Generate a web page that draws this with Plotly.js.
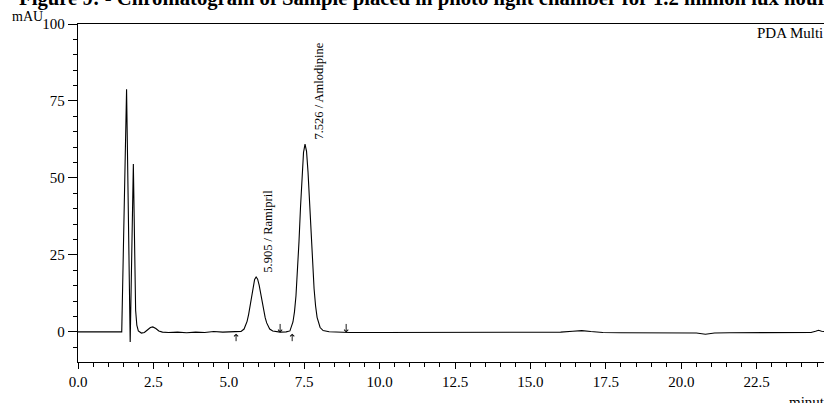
<!DOCTYPE html>
<html>
<head>
<meta charset="utf-8">
<script src="https://cdn.plot.ly/plotly-3.0.1.min.js"></script>
<style>
  html, body { margin: 0; padding: 0; background: #fff; }
  #chart { width: 824px; height: 403px; }
</style>
</head>
<body>
<div id="chart"></div>
<script>
// Retention time (minutes) and detector response (mAU) of the PDA trace
const timeMin = [
  0, 0.5, 1.0, 1.45,
  1.61, 1.73, 1.835, 1.91, 1.95, 2.0, 2.1, 2.2, 2.3, 2.4, 2.48, 2.58, 2.68, 2.8,
  3.0, 3.3, 3.6, 3.9, 4.2, 4.5, 4.8, 5.1,
  5.405, 5.505, 5.555, 5.605, 5.655, 5.705, 5.755, 5.805, 5.855, 5.905,
  5.955, 6.005, 6.055, 6.105, 6.155, 6.205, 6.255, 6.305, 6.355, 6.455, 6.555,
  6.7, 6.9, 7.026,
  7.126, 7.176, 7.226, 7.276, 7.326, 7.376, 7.426, 7.476, 7.526,
  7.576, 7.626, 7.676, 7.726, 7.776, 7.826, 7.876, 7.926, 8.026, 8.126, 8.326,
  8.6, 9.0, 10, 11, 12, 13, 14, 15, 16.0, 16.4, 16.7, 17.0, 17.4, 18.0, 19.0,
  20.0, 20.5, 20.8, 21.1, 21.6, 22.5, 23.5, 24.3, 24.45, 24.55, 24.65, 24.8
];
const absorbance = [
  0, 0, 0, 0,
  78.8, -3.3, 54.5, 7.0, 2.2, 0.3, -0.4, -0.2, 0.6, 1.4, 1.6, 1.1, 0.3, -0.1,
  -0.2, -0.1, -0.3, -0.1, -0.2, 0.1, -0.1, 0,
  0.15, 0.9, 1.9, 3.4, 5.6, 8.5, 11.8, 14.8, 17.0, 17.8,
  17.1, 15.2, 12.5, 9.6, 6.9, 4.6, 2.9, 1.7, 0.9, 0.25, 0.05,
  -0.1, 0, 0.3,
  3.2, 6.5, 11.7, 19.3, 29.3, 40.4, 50.7, 58.3, 61.0,
  58.6, 51.8, 42.0, 31.5, 21.8, 14.0, 8.4, 4.7, 1.4, 0.4, 0.05,
  -0.1, -0.2, -0.2, -0.2, -0.25, -0.25, -0.3, -0.3, -0.1, 0.2, 0.4, 0.1, -0.2, -0.3, -0.3,
  -0.3, -0.4, -0.8, -0.4, -0.3, -0.3, -0.3, -0.2, 0.2, 0.5, 0.2, 0
];

// Identified peaks
const peakTimes = [5.905, 7.526];
const peakHeights = [17.8, 61.0];
const peakNames = ['Ramipril', 'Amlodipine'];

// Integration start / end marks
const markTimes = [5.24, 6.70, 7.10, 8.89];
const markDirs = ['up', 'down', 'up', 'down'];

const yTicks = [0, 25, 50, 75, 100];
const xTicks = [0, 2.5, 5, 7.5, 10, 12.5, 15, 17.5, 20, 22.5];

const SERIF = 'Liberation Serif, Times New Roman, serif';

const annotations = [];

// peak labels, rotated, sitting just above each apex
const labelShift = [11, 14];
peakTimes.forEach((t, i) => {
  annotations.push({
    x: t, y: peakHeights[i], xref: 'x', yref: 'y',
    text: t.toFixed(3) + ' / ' + peakNames[i],
    textangle: -90, showarrow: false,
    xanchor: 'center', yanchor: 'bottom',
    xshift: labelShift[i], yshift: 2,
    font: { family: SERIF, size: 12.5, color: '#000' }
  });
});

// baseline arrows
markTimes.forEach((t, i) => {
  const up = markDirs[i] === 'up';
  annotations.push({
    x: t, y: up ? -0.6 : -0.2, xref: 'x', yref: 'y',
    ax: 0, ay: up ? 9 : -10, axref: 'pixel', ayref: 'pixel',
    showarrow: true, arrowhead: 4, arrowsize: 0.9, arrowwidth: 0.9,
    arrowcolor: '#000', standoff: 0, startstandoff: 0, text: ''
  });
});

// fixed texts
annotations.push(
  {
    xref: 'paper', yref: 'paper', x: -0.0818, y: 1.0755,
    xanchor: 'left', yanchor: 'middle', showarrow: false,
    text: '<b>Figure 9: - Chromatogram of Sample placed in photo light chamber for 1.2 million lux hours</b>',
    font: { family: SERIF, size: 20.7, color: '#000' }
  },
  {
    xref: 'paper', yref: 'paper', x: -0.0677, y: 1.022,
    xanchor: 'center', yanchor: 'middle', showarrow: false,
    text: 'mAU', font: { family: SERIF, size: 14, color: '#000' }
  },
  {
    xref: 'paper', yref: 'paper', x: 0.9075, y: 0.9734,
    xanchor: 'left', yanchor: 'middle', showarrow: false,
    text: 'PDA Multi 1', font: { family: SERIF, size: 15, color: '#000' }
  },
  {
    xref: 'paper', yref: 'paper', x: 0.950, y: -0.118,
    xanchor: 'left', yanchor: 'middle', showarrow: false,
    text: 'minute', font: { family: SERIF, size: 15, color: '#000' }
  }
);

const trace = {
  x: timeMin, y: absorbance, type: 'scatter', mode: 'lines',
  line: { color: '#000', width: 1.1, shape: 'linear' },
  hoverinfo: 'skip'
};

const tickFont = { family: SERIF, size: 15, color: '#000' };

const layout = {
  width: 824, height: 403,
  margin: { l: 78, r: 0, t: 24, b: 41, pad: 0 },
  paper_bgcolor: '#fff', plot_bgcolor: '#fff',
  showlegend: false,
  font: { family: SERIF, size: 13, color: '#000' },
  xaxis: {
    range: [0, 24.73], showgrid: false, zeroline: false,
    showline: true, linecolor: '#000', linewidth: 1.3, mirror: true,
    ticks: 'outside', ticklen: 6, tickwidth: 1, tickcolor: '#000',
    tickvals: xTicks, ticktext: xTicks.map(v => v.toFixed(1)),
    minor: { dtick: 0.5, tick0: 0, ticks: 'outside', ticklen: 4, tickcolor: '#000', tickwidth: 1 },
    tickfont: tickFont
  },
  yaxis: {
    range: [-9.8, 100], showgrid: false, zeroline: false,
    showline: true, linecolor: '#000', linewidth: 1.3,
    ticks: 'outside', ticklen: 9, tickwidth: 1, tickcolor: '#000',
    tickvals: yTicks, ticktext: yTicks.map(String),
    minor: { dtick: 5, tick0: 0, ticks: 'outside', ticklen: 4, tickcolor: '#000', tickwidth: 1 },
    tickfont: tickFont
  },
  annotations: annotations,
  hovermode: false
};

Plotly.newPlot('chart', [trace], layout, { displayModeBar: false, staticPlot: true });
</script>
</body>
</html>
